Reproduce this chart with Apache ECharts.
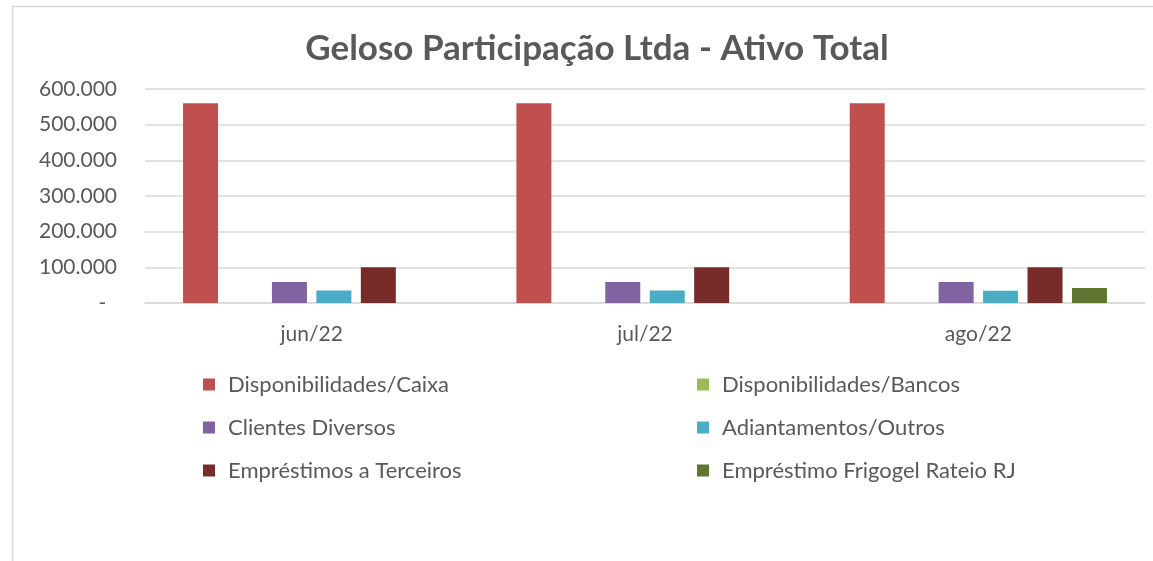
<!DOCTYPE html>
<html>
<head>
<meta charset="utf-8">
<script src="https://cdn.jsdelivr.net/npm/echarts@6/dist/echarts.min.js"></script>
<style>
  html, body { margin: 0; padding: 0; background: #fff; }
  #chart { width: 1153px; height: 561px; }
</style>
</head>
<body>
<div id="chart"></div>
<script>
var months = ['jun/22', 'jul/22', 'ago/22'];
var seriesNames = [
    'Disponibilidades/Caixa',
    'Disponibilidades/Bancos',
    'Clientes Diversos',
    'Adiantamentos/Outros',
    'Empréstimos a Terceiros',
    'Empréstimo Frigogel Rateio RJ'
];
var caixa = [560000, 560000, 560000];
var bancos = [0, 0, 0];
var clientes = [59000, 59000, 59000];
var adiantamentos = [35000, 35000, 34000];
var emprestimos = [100000, 100000, 100000];
var frigogel = [0, 0, 42000];
var colors = ['#c0504d', '#9bbb59', '#8064a2', '#4bacc6', '#772c2a', '#5f7530'];

var allData = [caixa, bancos, clientes, adiantamentos, emprestimos, frigogel];
var fontName = 'Lato';
var txtColor = '#595959';

function fmt(v) {
    if (v === 0) return '-  ';
    return String(v).replace(/\B(?=(\d{3})+(?!\d))/g, '.');
}

var chartDom = document.getElementById('chart');
var myChart = echarts.init(chartDom);

var series = [];
for (var i = 0; i < seriesNames.length; i++) {
    series.push({
        name: seriesNames[i],
        type: 'bar',
        data: allData[i],
        barWidth: 35,
        barGap: '27%',
        itemStyle: { color: colors[i] }
    });
}

var option = {
    animation: false,
    color: colors,
    textStyle: { fontFamily: fontName },
    graphic: [{
        type: 'rect',
        shape: { x: 12.5, y: 6.5, width: 1160, height: 580 },
        style: { fill: 'none', stroke: '#d9d9d9', lineWidth: 1.5 },
        silent: true
    }],
    title: {
        text: 'Geloso Participação Ltda - Ativo Total',
        left: 592,
        textAlign: 'center',
        top: 26,
        textStyle: {
            fontFamily: fontName,
            fontSize: 35,
            fontWeight: 'bold',
            color: txtColor
        }
    },
    legend: {
        left: 203,
        top: 373,
        padding: 0,
        width: 1000,
        itemWidth: 12,
        itemHeight: 12,
        itemGap: 20,
        icon: 'rect',
        data: seriesNames,
        textStyle: {
            fontFamily: fontName,
            fontSize: 22,
            color: txtColor,
            width: 449,
            lineHeight: 23,
            padding: [0, 0, 0, 8]
        }
    },
    grid: {
        left: 145,
        right: 8,
        top: 89,
        bottom: 258
    },
    xAxis: {
        type: 'category',
        data: months,
        axisLine: { lineStyle: { color: '#d9d9d9', width: 1.5 } },
        axisTick: { length: 7, lineStyle: { color: '#d9d9d9', width: 1.5 } },
        axisLabel: {
            margin: 21,
            fontSize: 21,
            color: txtColor,
            fontFamily: fontName
        }
    },
    yAxis: {
        type: 'value',
        min: 0,
        max: 600000,
        interval: 100000,
        axisLine: { show: false },
        axisTick: { show: false },
        splitLine: { lineStyle: { color: '#d9d9d9', width: 1.5 } },
        axisLabel: {
            margin: 28,
            fontSize: 21,
            color: txtColor,
            fontFamily: fontName,
            formatter: fmt
        }
    },
    series: series
};

option && myChart.setOption(option);
</script>
</body>
</html>
